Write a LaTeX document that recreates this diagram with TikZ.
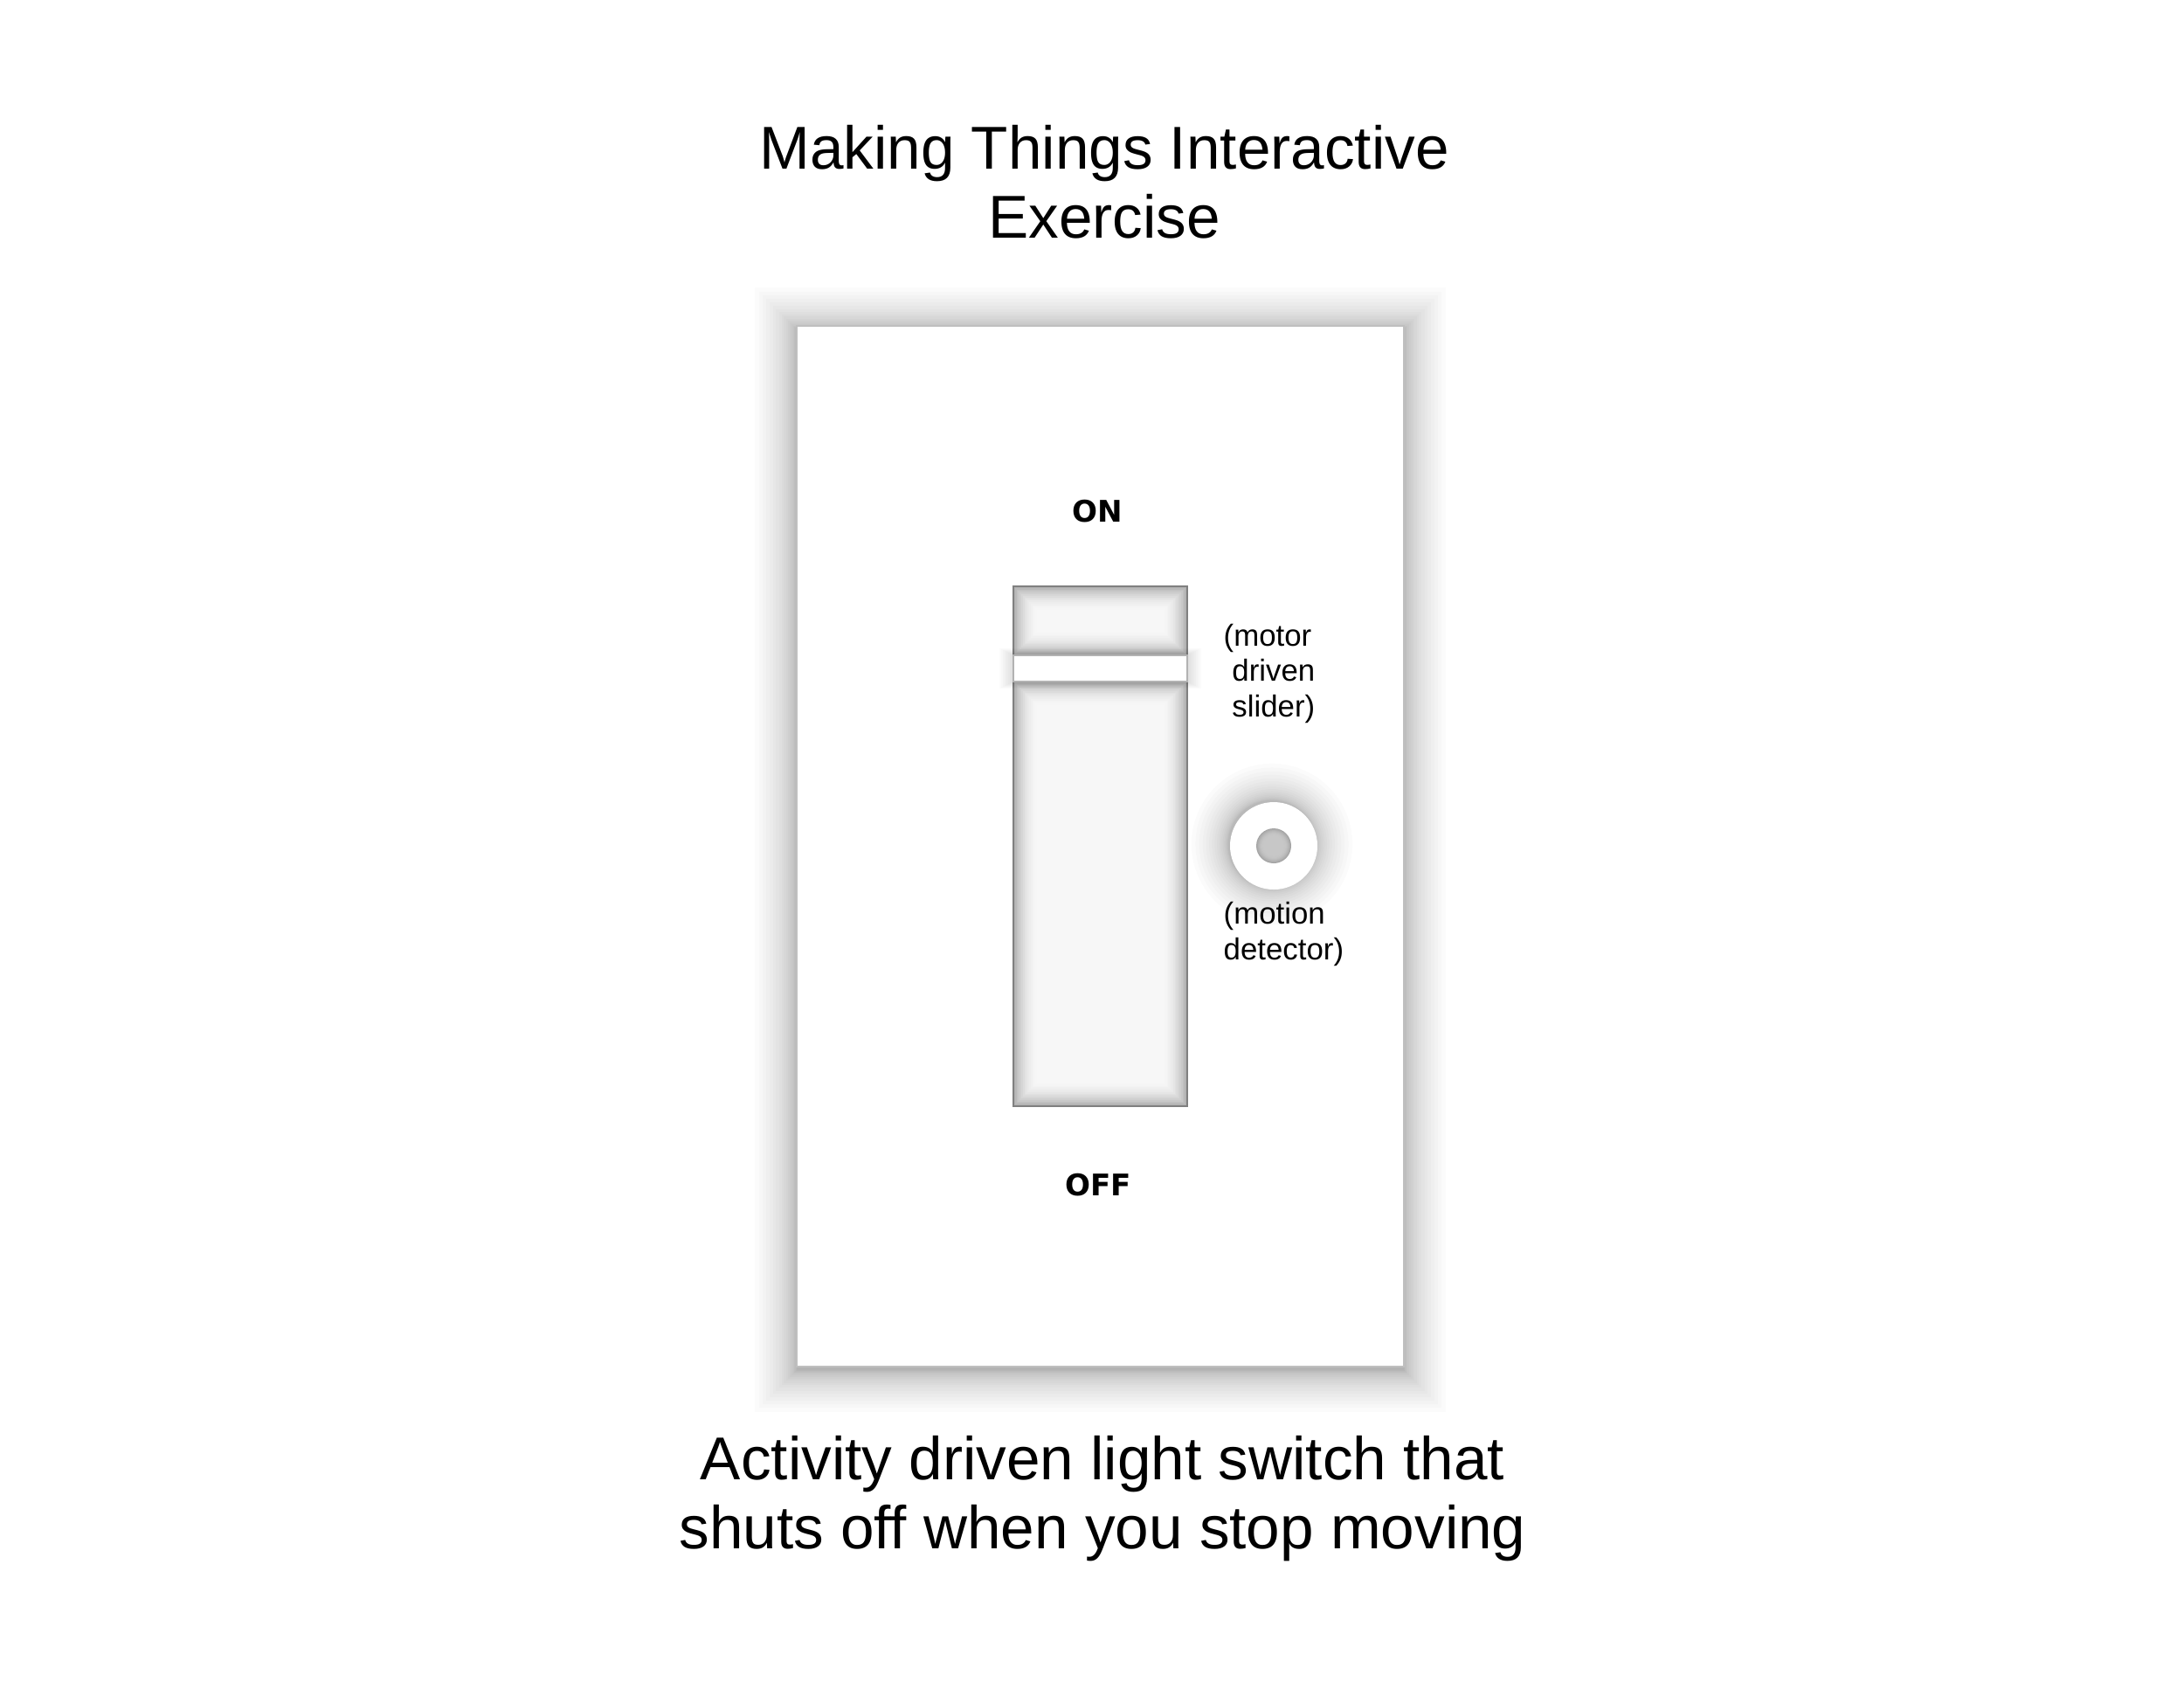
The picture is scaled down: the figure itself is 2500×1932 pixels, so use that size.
\documentclass[tikz,border=0pt]{standalone}
\usepackage{fontspec}
\setmainfont{Liberation Sans}
\newfontfamily\markfont{DejaVu Sans}

\begin{document}
\begin{tikzpicture}[x=0.01cm,y=-0.01cm,
    bigtext/.style={font=\fontsize{19.7}{22.3}\selectfont, align=center, inner sep=0pt, anchor=base},
    smalltext/.style={font=\fontsize{9.9}{11.4}\selectfont, align=left, inner sep=0pt, anchor=base west},
    marktext/.style={font=\markfont\fontsize{9.7}{12}\selectfont\bfseries, inner sep=0pt, anchor=base},
    haze/.style={fill=black, opacity=0.015}]

    \useasboundingbox (0,0) rectangle (2500,1932);
    \fill[white] (0,0) rectangle (2500,1932);

    % titles (anchored on the last line)
    \node[bigtext] (title) at (1264,272) {Making Things Interactive\\Exercise};
    \node[bigtext] (caption) at (1262,1772) {Activity driven light switch that\\shuts off when you stop moving};

    % switch plate with soft shadow
    \foreach \i [evaluate=\i as \r using {0.12*\i*\i}] in {1,...,20}{
        \fill[haze] (912-\r,373-\r+4) rectangle (1607+\r,1564+\r+4);
    }
    \fill[white] (912,373) rectangle (1607,1564);
    \draw[black!25, line width=0.4pt] (912,373) rectangle (1607,1564);

    % slot with inner shadow (above and below the slider)
    \foreach \ya/\yb in {671/750, 780/1266}{
        \foreach \i [evaluate=\i as \c using {3+28*(1-\i/16)^2}] in {0,...,16}{
            \fill[black!\c] (1160+1.8*\i,\ya+1.8*\i) rectangle (1359-1.8*\i,\yb-1.8*\i);
        }
    }
    \draw[black!50, line width=0.6pt] (1160,671) rectangle (1359,1266);

    % slider
    \foreach \i in {1,...,8}{
        \fill[haze] (1160-2*\i,750-\i) rectangle (1359+2*\i,780+\i);
    }
    \fill[white] (1160,750) rectangle (1359,780);
    \draw[black!30, line width=0.4pt] (1160,750) rectangle (1359,780);

    % motion detector
    \foreach \i [evaluate=\i as \r using {0.13*\i*\i}] in {1,...,18}{
        \fill[haze, opacity=0.014] (1456,966) circle (50+\r);
    }
    \fill[white] (1458,968) circle (50);
    \foreach \i [evaluate=\i as \c using {22+14*(1-\i/8)^2}] in {0,...,8}{
        \fill[black!\c] (1458,968) circle (20-\i);
    }

    % labels (anchored on the last line)
    \node[marktext] (on) at (1256,597) {ON};
    \node[marktext] (off) at (1257,1368) {OFF};
    \node[smalltext] (sliderlbl) at (1400,820) {(motor\\\hspace*{.28em}driven\\\hspace*{.28em}slider)};
    \node[smalltext] (detectorlbl) at (1400,1098) {(motion\\detector)};

\end{tikzpicture}
\end{document}
